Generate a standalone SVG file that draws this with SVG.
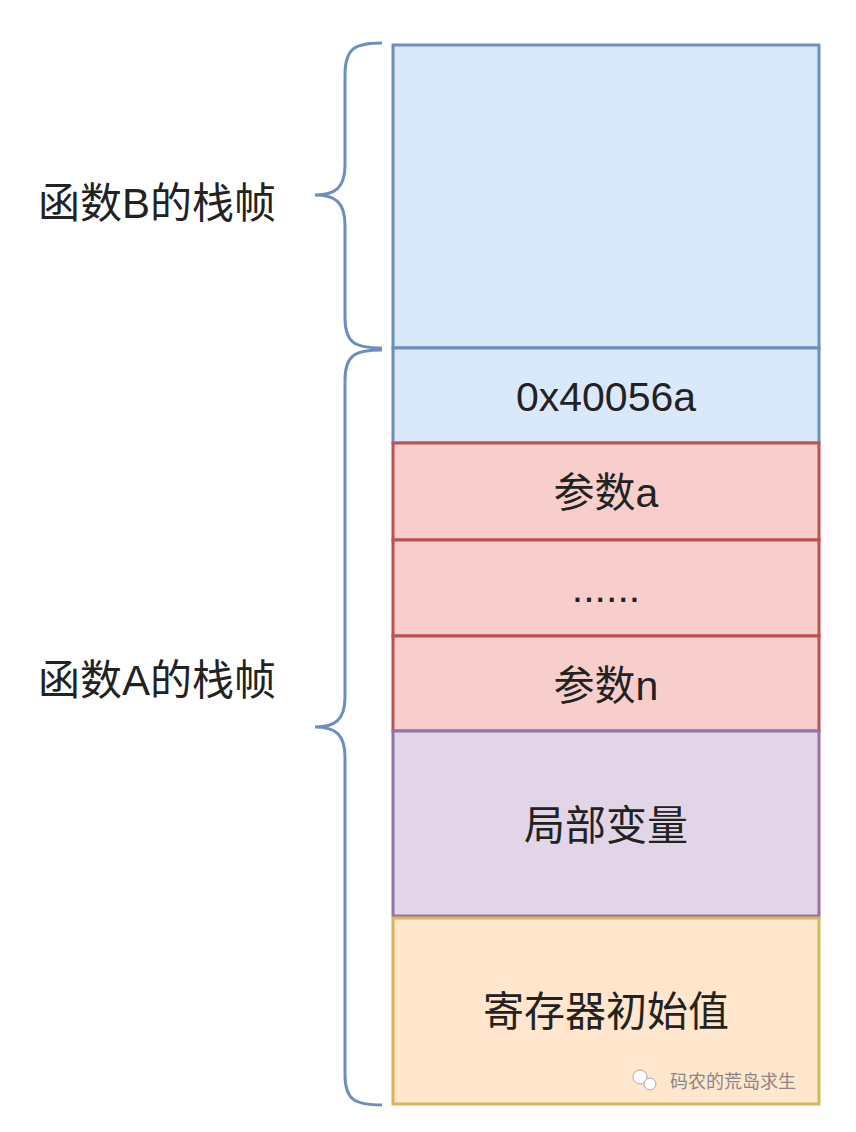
<svg xmlns="http://www.w3.org/2000/svg" width="856" height="1132" viewBox="0 0 856 1132">
<style>
.t{font-family:"Liberation Sans","Noto Sans CJK SC",sans-serif;font-size:41px;fill:#222;text-anchor:middle;dominant-baseline:central}
.l{font-family:"Liberation Sans","Noto Sans CJK SC",sans-serif;font-size:42px;fill:#222;dominant-baseline:central}
.b{fill:#dae8fc;stroke:#6c8ebf;stroke-width:3}
.r{fill:#f8cecc;stroke:#b85450;stroke-width:3}
.p{fill:#e1d5e7;stroke:#9673a6;stroke-width:3}
.o{fill:#ffe6cc;stroke:#d6b656;stroke-width:3}
.br{fill:none;stroke:#6c8ebf;stroke-width:3}
</style>
<rect width="856" height="1132" fill="#fff"/>
<g id="braces">
<path class="br" d="M382,43 C355,43 345,48 345,75 L345,165 C345,188 335,195 315,195 C335,195 345,202 345,225 L345,318 C345,343 355,348 382,348"/>
<path class="br" d="M382,350 C355,350 345,355 345,380 L345,697 C345,720 335,727 315,727 C335,727 345,734 345,757 L345,1075 C345,1100 355,1105 382,1105"/>
</g>
<g id="labelB"><text class="l" x="38" y="203">函数B的栈帧</text></g>
<g id="labelA"><text class="l" x="38" y="680">函数A的栈帧</text></g>
<g id="frameB"><rect class="b" x="393" y="45" width="426" height="303"/></g>
<g id="ret"><rect class="b" x="393" y="348" width="426" height="95"/><text class="t" x="606" y="397">0x40056a</text></g>
<g id="pa"><rect class="r" x="393" y="443" width="426" height="97"/><text class="t" x="606" y="493">参数a</text></g>
<g id="dots"><rect class="r" x="393" y="540" width="426" height="96"/><text class="t" x="606" y="588">......</text></g>
<g id="pn"><rect class="r" x="393" y="636" width="426" height="95"/><text class="t" x="606" y="686">参数n</text></g>
<g id="local"><rect class="p" x="393" y="731" width="426" height="185"/><text class="t" x="606" y="826">局部变量</text></g>
<g id="reg"><rect class="o" x="393" y="918" width="426" height="186"/><text class="t" x="606" y="1012">寄存器初始值</text></g>
<text x="670" y="1080" font-family="Noto Sans CJK SC,sans-serif" font-size="18" fill="#888" dominant-baseline="central">码农的荒岛求生</text>
<circle cx="640" cy="1077" r="7" fill="#fff" stroke="#aaa"/><circle cx="650" cy="1084" r="6" fill="#fff" stroke="#aaa"/>
</svg>
